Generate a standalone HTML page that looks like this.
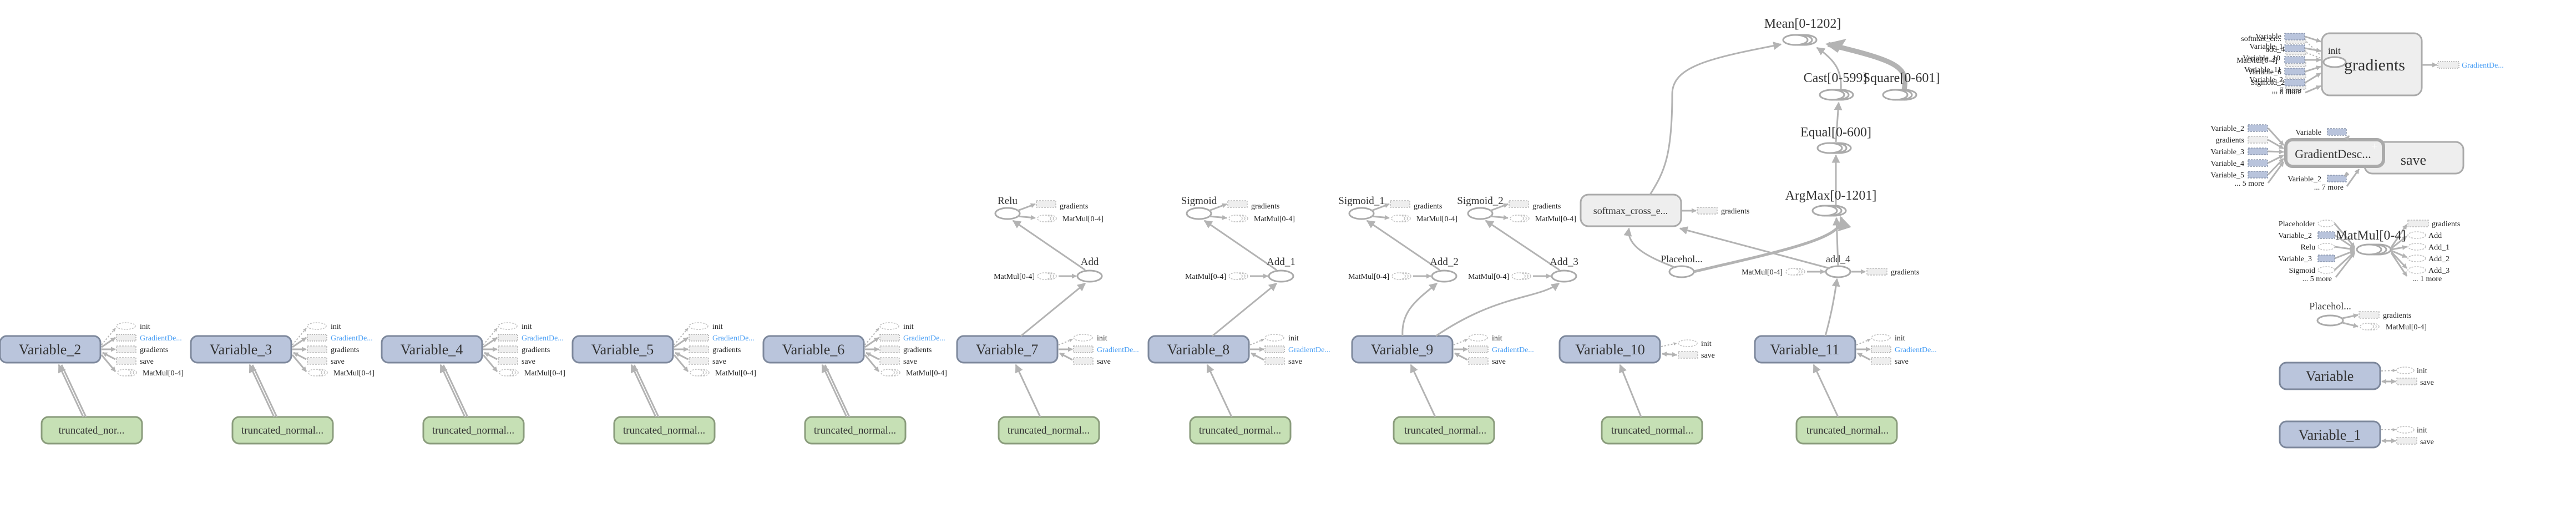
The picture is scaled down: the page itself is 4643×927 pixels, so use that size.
<!DOCTYPE html>
<html><head><meta charset="utf-8"><style>
html,body{margin:0;padding:0;background:#fff;}
svg{display:block;font-family:"Liberation Serif",serif;}
.e{stroke:#b3b3b3;stroke-width:3;fill:none;}
.et{stroke:#b3b3b3;stroke-width:5;fill:none;}
.d{stroke:#b8b8b8;stroke-width:2;stroke-dasharray:3 3;fill:none;}
.var{fill:#bac5dc;stroke:#7d889c;stroke-width:3;}
.tr{fill:#c6e0b5;stroke:#8a9c7c;stroke-width:3;}
.op{fill:#fff;stroke:#aaa;stroke-width:3;}
.sr{fill:#eee;stroke:#bbb;stroke-width:1.5;stroke-dasharray:3 2;}
.sb{fill:#b9c4dc;stroke:#8a95ab;stroke-width:1.5;stroke-dasharray:3 2;}
.se{fill:#fff;stroke:#c0c0c0;stroke-width:1.5;stroke-dasharray:3 2;}
.t{fill:#333;}
.s{font-size:14px;fill:#222;}
.bl{font-size:14px;fill:#4a9ff5;}
</style></head><body>
<svg width="4643" height="927" viewBox="0 0 4643 927" xmlns="http://www.w3.org/2000/svg">
<defs>
<marker id="a" viewBox="0 0 10 10" refX="9" refY="5" markerWidth="5" markerHeight="5" orient="auto"><path d="M0,0L10,5L0,10z" fill="#b3b3b3"/></marker>
<marker id="as" viewBox="0 0 10 10" refX="9" refY="5" markerWidth="3" markerHeight="3" orient="auto"><path d="M0,0L10,5L0,10z" fill="#b3b3b3"/></marker>
<g id="mm"><ellipse class="se" cx="24" cy="0" rx="12" ry="6"/><ellipse class="se" cx="19" cy="0" rx="12" ry="6"/><ellipse class="se" cx="14" cy="0" rx="12" ry="6"/></g>
<g id="v5">
<rect class="var" x="0" y="606" width="181" height="48" rx="12"/>
<rect class="tr" x="75" y="752" width="181" height="48" rx="12"/>
<line class="e" x1="150" y1="752" x2="106" y2="658" marker-end="url(#a)"/>
<line class="e" x1="155" y1="752" x2="111" y2="658"/>
<line class="d" x1="183" y1="622" x2="208" y2="592" marker-end="url(#as)"/>
<line class="e" x1="183" y1="626" x2="208" y2="609" marker-end="url(#as)"/>
<line class="e" x1="183" y1="630" x2="208" y2="630" marker-end="url(#as)"/>
<line class="e" x1="208" y1="648" x2="185" y2="636" marker-end="url(#as)"/>
<line class="e" x1="183" y1="640" x2="208" y2="670" marker-end="url(#as)"/>
<ellipse class="se" cx="227" cy="588" rx="17" ry="6"/>
<rect class="sr" x="210" y="603" width="35" height="12" style="stroke:#aaa;stroke-dasharray:2 2"/>
<rect class="sr" x="210" y="624" width="35" height="12"/>
<rect class="sr" x="210" y="645" width="35" height="12"/>
<use href="#mm" x="210" y="672"/>
</g>
<g id="v3">
<rect class="var" x="0" y="606" width="181" height="48" rx="12"/>
<rect class="tr" x="75" y="752" width="181" height="48" rx="12"/>
<line class="e" x1="150" y1="752" x2="106" y2="658" marker-end="url(#a)"/>
<line class="d" x1="183" y1="622" x2="208" y2="612" marker-end="url(#as)"/>
<line class="e" x1="183" y1="630" x2="208" y2="630" marker-end="url(#as)"/>
<line class="e" x1="208" y1="649" x2="185" y2="637" marker-end="url(#as)"/>
<ellipse class="se" cx="227" cy="609" rx="17" ry="6"/>
<rect class="sr" x="210" y="624" width="35" height="12" style="stroke:#aaa;stroke-dasharray:2 2"/>
<rect class="sr" x="210" y="645" width="35" height="12"/>
</g>
<g id="add">
<ellipse class="op" cx="0" cy="0" rx="22" ry="10"/>
<use href="#mm" x="-96" y="0"/>
<line class="e" x1="-56" y1="0" x2="-24" y2="0" marker-end="url(#as)"/>
</g>
<g id="act">
<ellipse class="op" cx="0" cy="0" rx="22" ry="10"/>
<rect class="sr" x="52" y="-23" width="35" height="12"/>
<line class="e" x1="18" y1="-5" x2="50" y2="-17" marker-end="url(#as)"/>
<line class="e" x1="18" y1="5" x2="50" y2="8" marker-end="url(#as)"/>
<use href="#mm" x="52" y="9"/>
</g>
</defs>

<!-- Variable shapes -->
<use href="#v5" x="0"/>
<use href="#v5" x="344"/>
<use href="#v5" x="688"/>
<use href="#v5" x="1032"/>
<use href="#v5" x="1376"/>
<use href="#v3" x="1725"/>
<use href="#v3" x="2070"/>
<use href="#v3" x="2437"/>
<use href="#v3" x="3163"/>
<g>
<rect class="var" x="2811" y="606" width="181" height="48" rx="12"/>
<rect class="tr" x="2887" y="752" width="181" height="48" rx="12"/>
<line class="e" x1="2958" y1="752" x2="2920" y2="658" marker-end="url(#a)"/>
<line class="d" x1="2994" y1="625" x2="3022" y2="619" marker-end="url(#as)"/>
<line class="e" x1="2996" y1="638" x2="3022" y2="640" marker-end="url(#as)"/>
<line class="e" x1="3022" y1="640" x2="2996" y2="638" marker-end="url(#as)"/>
<ellipse class="se" cx="3042" cy="619" rx="17" ry="6"/>
<rect class="sr" x="3025" y="634" width="35" height="12"/>
<text class="s" x="3066" y="624">init</text><text class="s" x="3066" y="645">save</text>
</g>

<!-- Variable labels -->
<g font-size="26" class="t" text-anchor="middle">
<text x="90" y="639">Variable_2</text><text x="434" y="639">Variable_3</text><text x="778" y="639">Variable_4</text><text x="1122" y="639">Variable_5</text><text x="1466" y="639">Variable_6</text>
<text x="1815" y="639">Variable_7</text><text x="2160" y="639">Variable_8</text><text x="2527" y="639">Variable_9</text><text x="2902" y="639">Variable_10</text><text x="3253" y="639">Variable_11</text>
</g>
<g font-size="19" class="t" text-anchor="middle">
<text x="165" y="782">truncated_nor...</text><text x="509" y="782">truncated_normal...</text><text x="853" y="782">truncated_normal...</text><text x="1197" y="782">truncated_normal...</text><text x="1541" y="782">truncated_normal...</text>
<text x="1890" y="782">truncated_normal...</text><text x="2235" y="782">truncated_normal...</text><text x="2605" y="782">truncated_normal...</text><text x="2978" y="782">truncated_normal...</text><text x="3330" y="782">truncated_normal...</text>
</g>
<g>
<text class="s" x="252" y="593">init</text><text class="bl" x="252" y="614">GradientDe...</text><text class="s" x="252" y="635">gradients</text><text class="s" x="252" y="656">save</text><text class="s" x="257" y="677">MatMul[0-4]</text>
<text class="s" x="596" y="593">init</text><text class="bl" x="596" y="614">GradientDe...</text><text class="s" x="596" y="635">gradients</text><text class="s" x="596" y="656">save</text><text class="s" x="601" y="677">MatMul[0-4]</text>
<text class="s" x="940" y="593">init</text><text class="bl" x="940" y="614">GradientDe...</text><text class="s" x="940" y="635">gradients</text><text class="s" x="940" y="656">save</text><text class="s" x="945" y="677">MatMul[0-4]</text>
<text class="s" x="1284" y="593">init</text><text class="bl" x="1284" y="614">GradientDe...</text><text class="s" x="1284" y="635">gradients</text><text class="s" x="1284" y="656">save</text><text class="s" x="1289" y="677">MatMul[0-4]</text>
<text class="s" x="1628" y="593">init</text><text class="bl" x="1628" y="614">GradientDe...</text><text class="s" x="1628" y="635">gradients</text><text class="s" x="1628" y="656">save</text><text class="s" x="1633" y="677">MatMul[0-4]</text>
<text class="s" x="1977" y="614">init</text><text class="bl" x="1977" y="635">GradientDe...</text><text class="s" x="1977" y="656">save</text>
<text class="s" x="2322" y="614">init</text><text class="bl" x="2322" y="635">GradientDe...</text><text class="s" x="2322" y="656">save</text>
<text class="s" x="2689" y="614">init</text><text class="bl" x="2689" y="635">GradientDe...</text><text class="s" x="2689" y="656">save</text>
<text class="s" x="3415" y="614">init</text><text class="bl" x="3415" y="635">GradientDe...</text><text class="s" x="3415" y="656">save</text>
</g>

<!-- Layers -->
<use href="#add" x="1964" y="498"/><use href="#act" x="1816" y="385"/>
<use href="#add" x="2309" y="498"/><use href="#act" x="2161" y="385"/>
<use href="#add" x="2603" y="498"/><use href="#act" x="2454" y="385"/>
<use href="#add" x="2819" y="498"/><use href="#act" x="2668" y="385"/>
<line class="e" x1="1840" y1="606" x2="1956" y2="511" marker-end="url(#a)"/>
<line class="e" x1="2185" y1="606" x2="2301" y2="511" marker-end="url(#a)"/>
<path class="e" d="M2528,606 C2525,560 2555,540 2590,511" marker-end="url(#a)"/>
<path class="e" d="M2588,606 C2700,530 2770,540 2810,511" marker-end="url(#a)"/>
<line class="e" x1="1956" y1="487" x2="1826" y2="398" marker-end="url(#a)"/>
<line class="e" x1="2301" y1="487" x2="2171" y2="398" marker-end="url(#a)"/>
<line class="e" x1="2595" y1="487" x2="2464" y2="398" marker-end="url(#a)"/>
<line class="e" x1="2811" y1="487" x2="2678" y2="398" marker-end="url(#a)"/>
<g font-size="19" class="t" text-anchor="middle">
<text x="1964" y="478">Add</text><text x="2309" y="478">Add_1</text><text x="2603" y="478">Add_2</text><text x="2819" y="478">Add_3</text>
<text x="1816" y="368">Relu</text><text x="2161" y="368">Sigmoid</text><text x="2454" y="368">Sigmoid_1</text><text x="2668" y="368">Sigmoid_2</text>
</g>
<g class="s" text-anchor="end">
<text x="1865" y="503">MatMul[0-4]</text><text x="2210" y="503">MatMul[0-4]</text><text x="2504" y="503">MatMul[0-4]</text><text x="2720" y="503">MatMul[0-4]</text>
</g>
<g class="s">
<text x="1910" y="376">gradients</text><text x="1915" y="399">MatMul[0-4]</text>
<text x="2255" y="376">gradients</text><text x="2260" y="399">MatMul[0-4]</text>
<text x="2548" y="376">gradients</text><text x="2553" y="399">MatMul[0-4]</text>
<text x="2762" y="376">gradients</text><text x="2767" y="399">MatMul[0-4]</text>
</g>

<!-- softmax / add_4 / ArgMax / Equal / Cast / Square / Mean -->
<rect x="2849" y="351" width="181" height="57" rx="14" fill="#eee" stroke="#aaa" stroke-width="3"/>
<text x="2939" y="386" font-size="18" class="t" text-anchor="middle">softmax_cross_e...</text>
<line class="e" x1="3031" y1="380" x2="3057" y2="380" marker-end="url(#as)"/>
<rect class="sr" x="3059" y="374" width="36" height="12"/>
<text class="s" x="3102" y="385">gradients</text>
<ellipse class="op" cx="3031" cy="490" rx="22" ry="10"/>
<text x="3031" y="473" font-size="18" class="t" text-anchor="middle">Placehol...</text>
<use href="#add" x="3313" y="490"/>
<text x="3313" y="473" font-size="18" class="t" text-anchor="middle">add_4</text>
<text class="s" x="3213" y="495" text-anchor="end">MatMul[0-4]</text>
<line class="e" x1="3337" y1="490" x2="3362" y2="490" marker-end="url(#as)"/>
<rect class="sr" x="3365" y="484" width="36" height="12"/>
<text class="s" x="3408" y="495">gradients</text>
<path class="e" d="M3290,606 C3300,570 3306,540 3311,503" marker-end="url(#a)"/>
<path class="e" d="M3018,482 C2990,470 2930,450 2936,412" marker-end="url(#a)"/>
<line class="e" x1="3298" y1="484" x2="3028" y2="412" marker-end="url(#a)"/>
<path class="et" d="M3053,490 C3200,455 3330,430 3318,392" marker-end="url(#a)"/>
<line class="e" x1="3313" y1="480" x2="3310" y2="393" marker-end="url(#a)"/>
<line class="e" x1="3309" y1="370" x2="3309" y2="280" marker-end="url(#a)"/>
<line class="e" x1="3309" y1="256" x2="3314" y2="185" marker-end="url(#a)"/>
<path class="e" d="M2974,351 C3000,310 3014,280 3014,170 C3014,120 3080,105 3210,80" marker-end="url(#a)"/>
<path class="e" d="M3318,162 C3320,130 3310,110 3275,86" marker-end="url(#a)"/>
<path d="M3432,162 C3440,120 3420,110 3295,80" stroke="#b3b3b3" stroke-width="9" fill="none"/>
<path d="M3290,79 L3328,70 L3312,95 z" fill="#b3b3b3"/>
<g>
<ellipse class="op" cx="3252" cy="72" rx="22" ry="9"/><ellipse class="op" cx="3244" cy="72" rx="22" ry="9"/><ellipse class="op" cx="3236" cy="72" rx="22" ry="9"/>
<ellipse class="op" cx="3318" cy="171" rx="22" ry="9"/><ellipse class="op" cx="3310" cy="171" rx="22" ry="9"/><ellipse class="op" cx="3302" cy="171" rx="22" ry="9"/>
<ellipse class="op" cx="3432" cy="171" rx="22" ry="9"/><ellipse class="op" cx="3424" cy="171" rx="22" ry="9"/><ellipse class="op" cx="3416" cy="171" rx="22" ry="9"/>
<ellipse class="op" cx="3314" cy="267" rx="22" ry="9"/><ellipse class="op" cx="3306" cy="267" rx="22" ry="9"/><ellipse class="op" cx="3298" cy="267" rx="22" ry="9"/>
<ellipse class="op" cx="3305" cy="380" rx="22" ry="9"/><ellipse class="op" cx="3297" cy="380" rx="22" ry="9"/><ellipse class="op" cx="3289" cy="380" rx="22" ry="9"/>
</g>
<g font-size="24" class="t" text-anchor="middle">
<text x="3249" y="50">Mean[0-1202]</text>
<text x="3308" y="148">Cast[0-599]</text><text x="3427" y="148">Square[0-601]</text>
<text x="3309" y="246">Equal[0-600]</text>
<text x="3300" y="360">ArgMax[0-1201]</text>
</g>

<!-- gradients block -->
<rect x="4185" y="60" width="180" height="112" rx="14" fill="#eee" stroke="#aaa" stroke-width="3"/>
<text x="4196" y="97" font-size="17" class="t">init</text>
<ellipse cx="4208" cy="112" rx="20" ry="9" fill="#fff" stroke="#aaa" stroke-width="3"/>
<text x="4280" y="127" font-size="30" class="t" text-anchor="middle">gradients</text>
<g>
<rect class="sr" x="4120" y="66" width="36" height="12"/><rect class="sb" x="4118" y="60" width="36" height="12"/>
<rect class="sr" x="4120" y="87" width="36" height="12"/><rect class="sb" x="4118" y="81" width="36" height="12"/>
<rect class="sr" x="4120" y="108" width="36" height="12"/><rect class="sb" x="4118" y="102" width="36" height="12"/>
<rect class="sr" x="4120" y="129" width="36" height="12"/><rect class="sb" x="4118" y="123" width="36" height="12"/>
<rect class="sr" x="4120" y="149" width="36" height="12"/><rect class="sb" x="4118" y="143" width="36" height="12"/>
<line class="e" x1="4155" y1="66" x2="4183" y2="75" marker-end="url(#as)"/>
<line class="e" x1="4155" y1="87" x2="4183" y2="92" marker-end="url(#as)"/>
<line class="e" x1="4155" y1="108" x2="4183" y2="108" marker-end="url(#as)"/>
<line class="e" x1="4155" y1="129" x2="4183" y2="120" marker-end="url(#as)"/>
<line class="e" x1="4155" y1="149" x2="4183" y2="132" marker-end="url(#as)"/>
<line class="e" x1="4155" y1="167" x2="4183" y2="155" marker-end="url(#as)"/>
<line class="d" x1="4157" y1="75" x2="4183" y2="100"/>
<line class="d" x1="4157" y1="95" x2="4183" y2="105"/>
</g>
<g class="s" text-anchor="end" font-size="13">
<text x="4112" y="70">Variable</text><text x="4112" y="74">softmax_cr...</text>
<text x="4115" y="88">Variable_1</text><text x="4118" y="93">add_4</text>
<text x="4110" y="109">Variable_10</text><text x="4105" y="113">MatMul[0-4]</text>
<text x="4112" y="130">Variable_11</text><text x="4112" y="134">Variable_6</text>
<text x="4115" y="148">Variable_2</text><text x="4118" y="153">Sigmoid_2</text>
<text x="4148" y="167">... 7 more</text><text x="4148" y="170">... 8 more</text>
</g>
<line class="e" x1="4366" y1="117" x2="4392" y2="117" marker-end="url(#as)"/>
<rect class="sr" x="4394" y="111" width="38" height="12" style="stroke:#aaa;stroke-dasharray:2 2"/>
<text class="bl" x="4437" y="122">GradientDe...</text>

<!-- GradientDesc + save -->
<rect x="4262" y="256" width="178" height="57" rx="14" fill="#eee" stroke="#aaa" stroke-width="3"/>
<text x="4350" y="297" font-size="26" class="t" text-anchor="middle">save</text>
<rect x="4120" y="252" width="176" height="48" rx="12" fill="#eee" stroke="#aaa" stroke-width="6"/>
<text x="4205" y="285" font-size="22" class="t" text-anchor="middle">GradientDesc...</text>
<text x="4280" y="270" font-size="20" fill="#fff" text-anchor="middle">+</text>
<g>
<rect class="sb" x="4052" y="225" width="35" height="12"/><rect class="sr" x="4052" y="246" width="35" height="12"/>
<rect class="sb" x="4052" y="267" width="35" height="12"/><rect class="sb" x="4052" y="288" width="35" height="12"/>
<rect class="sb" x="4052" y="309" width="35" height="12"/>
<line class="e" x1="4088" y1="231" x2="4116" y2="262" marker-end="url(#as)"/>
<line class="e" x1="4088" y1="252" x2="4116" y2="268" marker-end="url(#as)"/>
<line class="e" x1="4088" y1="273" x2="4116" y2="274" marker-end="url(#as)"/>
<line class="e" x1="4088" y1="294" x2="4116" y2="280" marker-end="url(#as)"/>
<line class="e" x1="4088" y1="315" x2="4116" y2="286" marker-end="url(#as)"/>
<line class="e" x1="4088" y1="330" x2="4116" y2="292" marker-end="url(#as)"/>
<rect class="sb" x="4195" y="232" width="34" height="12"/>
<line class="e" x1="4230" y1="250" x2="4234" y2="245" marker-end="url(#as)"/>
<rect class="sb" x="4195" y="316" width="34" height="12"/>
<line class="e" x1="4232" y1="312" x2="4226" y2="318" marker-end="url(#as)"/>
<line class="e" x1="4230" y1="336" x2="4252" y2="305" marker-end="url(#as)"/>
</g>
<g class="s" text-anchor="end" font-size="15">
<text x="4045" y="236">Variable_2</text><text x="4045" y="257">gradients</text><text x="4045" y="278">Variable_3</text><text x="4045" y="299">Variable_4</text><text x="4045" y="320">Variable_5</text><text x="4081" y="335">... 5 more</text>
<text x="4184" y="243">Variable</text><text x="4184" y="327">Variable_2</text><text x="4224" y="342">... 7 more</text>
</g>

<!-- MatMul[0-4] group -->
<g>
<ellipse class="op" cx="4287" cy="450" rx="22" ry="9"/><ellipse class="op" cx="4279" cy="450" rx="22" ry="9"/><ellipse class="op" cx="4270" cy="450" rx="22" ry="9"/>
<ellipse class="se" cx="4193" cy="403" rx="15" ry="6"/><rect class="sb" x="4178" y="418" width="30" height="12"/>
<ellipse class="se" cx="4193" cy="445" rx="15" ry="6"/><rect class="sb" x="4178" y="460" width="30" height="12"/>
<ellipse class="se" cx="4193" cy="487" rx="15" ry="6"/>
<line class="e" x1="4208" y1="403" x2="4244" y2="446" marker-end="url(#as)"/>
<line class="e" x1="4208" y1="424" x2="4244" y2="448" marker-end="url(#as)"/>
<line class="e" x1="4208" y1="445" x2="4244" y2="450" marker-end="url(#as)"/>
<line class="e" x1="4208" y1="466" x2="4244" y2="452" marker-end="url(#as)"/>
<line class="e" x1="4208" y1="487" x2="4244" y2="454" marker-end="url(#as)"/>
<line class="e" x1="4210" y1="500" x2="4244" y2="456" marker-end="url(#as)"/>
<rect class="sr" x="4340" y="397" width="37" height="12"/>
<ellipse class="se" cx="4356" cy="424" rx="16" ry="6"/><ellipse class="se" cx="4356" cy="445" rx="16" ry="6"/><ellipse class="se" cx="4356" cy="466" rx="16" ry="6"/><ellipse class="se" cx="4356" cy="487" rx="16" ry="6"/>
<line class="e" x1="4310" y1="446" x2="4338" y2="405" marker-end="url(#as)"/>
<line class="e" x1="4310" y1="448" x2="4338" y2="426" marker-end="url(#as)"/>
<line class="e" x1="4310" y1="450" x2="4338" y2="445" marker-end="url(#as)"/>
<line class="e" x1="4310" y1="452" x2="4338" y2="464" marker-end="url(#as)"/>
<line class="e" x1="4310" y1="454" x2="4338" y2="484" marker-end="url(#as)"/>
<line class="e" x1="4310" y1="456" x2="4338" y2="498" marker-end="url(#as)"/>
</g>
<text x="4273" y="432" font-size="24" class="t" text-anchor="middle">MatMul[0-4]</text>
<g class="s" text-anchor="end" font-size="14">
<text x="4173" y="408">Placeholder</text><text x="4167" y="429">Variable_2</text><text x="4173" y="450">Relu</text><text x="4167" y="471">Variable_3</text><text x="4173" y="492">Sigmoid</text><text x="4203" y="507">... 5 more</text>
</g>
<g class="s" font-size="14">
<text x="4383" y="408">gradients</text><text x="4377" y="429">Add</text><text x="4377" y="450">Add_1</text><text x="4377" y="471">Add_2</text><text x="4377" y="492">Add_3</text><text x="4348" y="507">... 1 more</text>
</g>

<!-- Placeholder -->
<ellipse class="op" cx="4200" cy="578" rx="23" ry="9"/>
<text x="4200" y="558" font-size="18" class="t" text-anchor="middle">Placehol...</text>
<line class="e" x1="4222" y1="574" x2="4250" y2="568" marker-end="url(#as)"/>
<line class="e" x1="4222" y1="582" x2="4250" y2="589" marker-end="url(#as)"/>
<rect class="sr" x="4252" y="562" width="36" height="12"/>
<use href="#mm" x="4252" y="589"/>
<text class="s" x="4295" y="573">gradients</text><text class="s" x="4300" y="594">MatMul[0-4]</text>

<!-- Variable, Variable_1 -->
<rect class="var" x="4109" y="654" width="181" height="48" rx="12"/>
<text x="4199" y="687" font-size="26" class="t" text-anchor="middle">Variable</text>
<line class="d" x1="4292" y1="669" x2="4318" y2="668" marker-end="url(#as)"/>
<line class="e" x1="4318" y1="688" x2="4293" y2="688" marker-end="url(#as)"/>
<line class="e" x1="4293" y1="688" x2="4318" y2="688" marker-end="url(#as)"/>
<ellipse class="se" cx="4335" cy="668" rx="16" ry="6"/>
<rect class="sr" x="4320" y="682" width="36" height="12"/>
<text class="s" x="4356" y="673">init</text><text class="s" x="4362" y="694">save</text>
<rect class="var" x="4109" y="760" width="181" height="47" rx="12"/>
<text x="4199" y="793" font-size="26" class="t" text-anchor="middle">Variable_1</text>
<line class="d" x1="4292" y1="775" x2="4318" y2="775" marker-end="url(#as)"/>
<line class="e" x1="4318" y1="795" x2="4293" y2="795" marker-end="url(#as)"/>
<line class="e" x1="4293" y1="795" x2="4318" y2="795" marker-end="url(#as)"/>
<ellipse class="se" cx="4335" cy="775" rx="16" ry="6"/>
<rect class="sr" x="4320" y="789" width="36" height="12"/>
<text class="s" x="4356" y="780">init</text><text class="s" x="4362" y="801">save</text>
</svg>
</body></html>
